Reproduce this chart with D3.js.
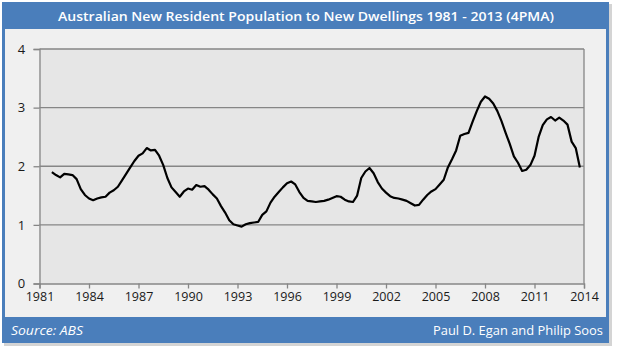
<!DOCTYPE html>
<html lang="en">
<head>
<meta charset="UTF-8">
<script src="https://d3js.org/d3.v7.min.js"></script>
<style>
  body { margin: 0; background: #ffffff; }
  text { font-family: "Open Sans", "Liberation Sans", sans-serif; }
</style>
</head>
<body>
<div id="chart"></div>
<script>
// Quarterly 4-period moving average, first point 1981 Q4
const startYear = 1981.75;
const values = [
  1.90, 1.85, 1.81, 1.87, 1.86, 1.85, 1.78, 1.61, 1.51, 1.45,
  1.42, 1.45, 1.47, 1.48, 1.55, 1.59, 1.65, 1.76, 1.87, 1.98,
  2.09, 2.18, 2.22, 2.31, 2.27, 2.28, 2.18, 2.02, 1.80, 1.64,
  1.56, 1.48, 1.57, 1.62, 1.60, 1.68, 1.65, 1.66, 1.60, 1.52,
  1.45, 1.32, 1.21, 1.08, 1.01, 0.99, 0.97, 1.01, 1.03, 1.04,
  1.05, 1.17, 1.23, 1.38, 1.48, 1.56, 1.64, 1.71, 1.74, 1.69,
  1.56, 1.46, 1.41, 1.40, 1.39, 1.40, 1.41, 1.43, 1.46, 1.49,
  1.48, 1.43, 1.40, 1.39, 1.50, 1.80, 1.91, 1.97, 1.88, 1.73,
  1.62, 1.55, 1.49, 1.46, 1.45, 1.43, 1.41, 1.37, 1.33, 1.34,
  1.43, 1.51, 1.57, 1.61, 1.69, 1.77, 1.98, 2.12, 2.27, 2.52,
  2.55, 2.57, 2.76, 2.94, 3.10, 3.19, 3.15, 3.07, 2.94, 2.77,
  2.57, 2.38, 2.17, 2.06, 1.92, 1.94, 2.02, 2.18, 2.50, 2.70,
  2.80, 2.84, 2.78, 2.83, 2.78, 2.71, 2.42, 2.31, 1.98
];
const xTicks = [1981, 1984, 1987, 1990, 1993, 1996, 1999, 2002, 2005, 2008, 2011, 2014];
const yTicks = [0, 1, 2, 3, 4];

const title = "Australian New Resident Population to New Dwellings 1981 - 2013 (4PMA)";
const source = "Source: ABS";
const credit = "Paul D. Egan and Philip Soos";

const width = 617, height = 352;
const blue = "#4a7ebb";

const svg = d3.select("#chart").append("svg")
  .attr("width", width)
  .attr("height", height);

// Panel shadow, frame and inner area
svg.append("rect")
  .attr("x", 4).attr("y", 4).attr("width", 608).attr("height", 342)
  .attr("fill", "#b8b8b8").attr("opacity", 0.6);
svg.append("rect")
  .attr("x", 2).attr("y", 2).attr("width", 607).attr("height", 341)
  .attr("fill", blue);
svg.append("rect")
  .attr("x", 5).attr("y", 29).attr("width", 601).attr("height", 288)
  .attr("fill", "#f0f0f0");

// Title and footer
svg.append("text")
  .attr("x", 306).attr("y", 21)
  .attr("text-anchor", "middle")
  .attr("fill", "white")
  .attr("font-size", 13)
  .attr("font-weight", 600)
  .attr("textLength", 496)
  .attr("lengthAdjust", "spacingAndGlyphs")
  .text(title);

svg.append("text")
  .attr("x", 11).attr("y", 335)
  .attr("fill", "white")
  .attr("font-size", 12.5)
  .attr("font-style", "italic")
  .attr("textLength", 72)
  .attr("lengthAdjust", "spacingAndGlyphs")
  .text(source);

svg.append("text")
  .attr("x", 603).attr("y", 335)
  .attr("text-anchor", "end")
  .attr("fill", "white")
  .attr("font-size", 12.5)
  .attr("textLength", 170)
  .attr("lengthAdjust", "spacingAndGlyphs")
  .text(credit);

// Scales
const x = d3.scaleLinear().domain([1981, 2014]).range([39.5, 584]);
const y = d3.scaleLinear().domain([0, 4]).range([283.5, 49]);

// Plot area
svg.append("rect")
  .attr("x", x(1981)).attr("y", y(4))
  .attr("width", x(2014) - x(1981)).attr("height", y(0) - y(4))
  .attr("fill", "#e6e6e6");

const grid = "#868686";

// Gridlines
svg.append("g")
  .selectAll("line")
  .data(yTicks.filter(d => d > 0))
  .join("line")
  .attr("x1", x(1981)).attr("x2", x(2014))
  .attr("y1", d => y(d)).attr("y2", d => y(d))
  .attr("stroke", grid).attr("stroke-width", 1.3);

// Right border
svg.append("line")
  .attr("x1", x(2014)).attr("x2", x(2014))
  .attr("y1", y(4)).attr("y2", y(0))
  .attr("stroke", grid).attr("stroke-width", 1.3);

// Y axis
const yAxis = svg.append("g")
  .attr("transform", `translate(${x(1981)},0)`)
  .call(d3.axisLeft(y).tickValues(yTicks).tickFormat(d3.format("d")).tickSize(6).tickPadding(10));
yAxis.select(".domain").attr("stroke", grid).attr("stroke-width", 1.3);
yAxis.selectAll(".tick line").attr("stroke", grid).attr("stroke-width", 1.3);
yAxis.selectAll(".tick text")
  .attr("font-size", 13).attr("fill", "#1a1a1a")
  .attr("text-anchor", "middle").attr("x", -18);

// X axis
const xAxis = svg.append("g")
  .attr("transform", `translate(0,${y(0)})`)
  .call(d3.axisBottom(x).tickValues(xTicks).tickFormat(d3.format("d")).tickSize(5).tickPadding(4));
xAxis.select(".domain").attr("stroke", grid).attr("stroke-width", 1.3);
xAxis.selectAll(".tick line").attr("stroke", grid).attr("stroke-width", 1.3);
xAxis.selectAll(".tick text")
  .attr("font-size", 12.5).attr("fill", "#1a1a1a");

// Series line
const line = d3.line()
  .x((d, i) => x(startYear + i * 0.25))
  .y(d => y(d));

svg.append("path")
  .datum(values)
  .attr("fill", "none")
  .attr("stroke", "black")
  .attr("stroke-width", 2.2)
  .attr("stroke-linejoin", "round")
  .attr("d", line);
</script>
</body>
</html>
